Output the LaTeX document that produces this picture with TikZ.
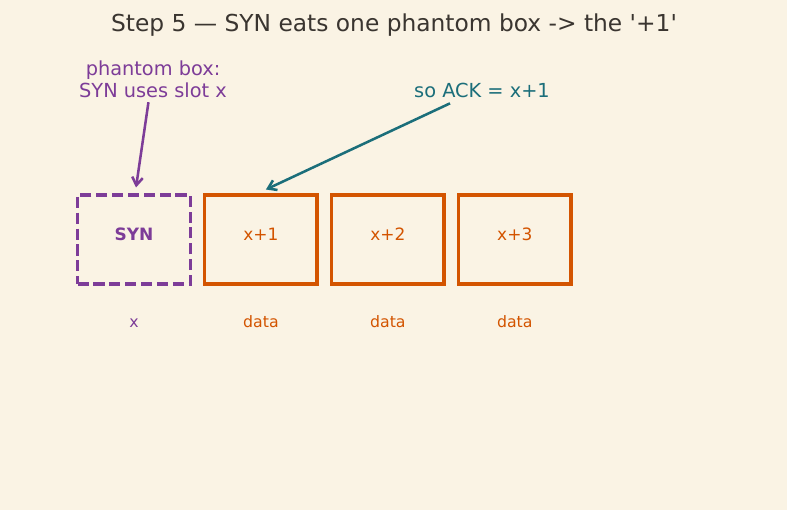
\documentclass[tikz,border=0pt]{standalone}
\usepackage{fontspec}
\setmainfont{DejaVu Sans}
\usetikzlibrary{arrows.meta, positioning, calc}
\definecolor{bgcream}{HTML}{FAF3E4}
\definecolor{synpurple}{HTML}{7D3C98}
\definecolor{seqorange}{HTML}{D35400}
\definecolor{ackteal}{HTML}{1B6E7A}
\definecolor{ttlgray}{HTML}{3A3530}

\begin{document}
\begin{tikzpicture}[x=0.75pt, y=0.75pt,
  slot/.style={rectangle, line width=2.8pt, minimum width=84.6pt,
    minimum height=67.2pt, inner sep=0pt, text height=9pt, text depth=8pt,
    font=\fontsize{12.75}{15}\selectfont},
  ghostbox/.style={slot, draw=synpurple, dash pattern=on 8.3pt off 3.6pt,
    text=synpurple, font=\fontsize{12.75}{15}\selectfont\bfseries},
  databox/.style={slot, draw=seqorange, text=seqorange},
  slab/.style={anchor=base, yshift=-31.2pt, font=\fontsize{11.8}{13}\selectfont},
  callout/.style={align=center, font=\fontsize{14.5}{16.5}\selectfont},
  >={Straight Barb[length=6pt, width=8pt]},
  parr/.style={draw=synpurple, line width=1.9pt, ->},
  tarr/.style={draw=ackteal, line width=1.9pt, ->},
]

% Background
\fill[bgcream] (0,0) rectangle (787,-510);
\useasboundingbox (0,0) rectangle (787,-510);

\node[font=\fontsize{17.5}{21}\selectfont, text=ttlgray] (title) at (394,-25)
  {Step 5 — SYN eats one phantom box -> the \textquotesingle+1\textquotesingle};

\node[ghostbox] (syn) at (134,-239.5) {SYN};
\node[databox, right=7.8pt of syn] (seq1) {x+1};
\node[databox, right=7.8pt of seq1] (seq2) {x+2};
\node[databox, right=7.8pt of seq2] (seq3) {x+3};

\node[slab, text=synpurple] (lblsyn) at (syn.south) {x};
\node[slab, text=seqorange] (lbl1) at (seq1.south) {data};
\node[slab, text=seqorange] (lbl2) at (seq2.south) {data};
\node[slab, text=seqorange] (lbl3) at (seq3.south) {data};

\node[callout, text=synpurple] (ghostnote) at (153,-79)
  {phantom box:\\SYN uses slot x};
\node[callout, text=ackteal] (acknote) at (482,-90) {so ACK = x+1};

\draw[parr] ([xshift=-3.4pt]ghostnote.south) -- ([xshift=1.5pt, yshift=4pt]syn.north);
\draw[tarr] ([xshift=-24pt, yshift=-1pt]acknote.south) -- ([xshift=3.75pt, yshift=2.5pt]seq1.north);
\end{tikzpicture}
\end{document}
